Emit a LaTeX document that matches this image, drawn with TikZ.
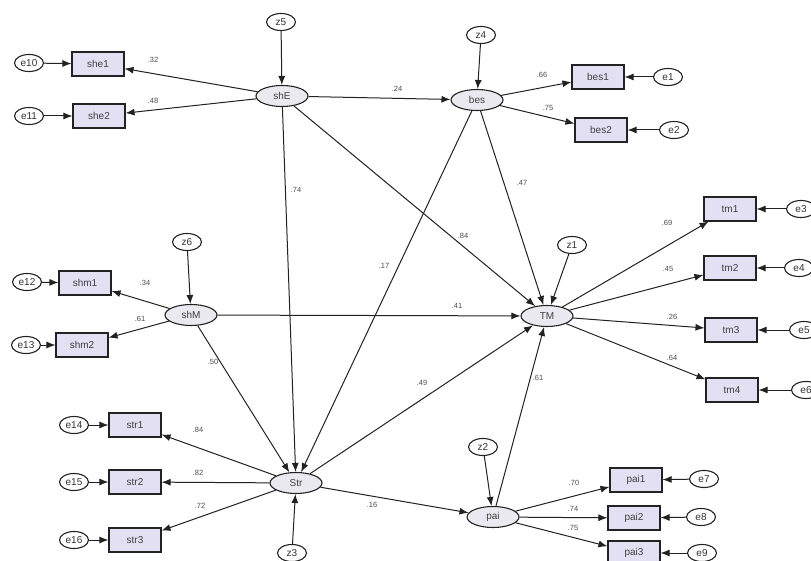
\documentclass[tikz,border=0pt]{standalone}
\usepackage{fontspec}
\setmainfont{Liberation Sans}
\usetikzlibrary{shapes.geometric,arrows.meta}
\definecolor{boxfill}{HTML}{E2E0F2}
\definecolor{ellfill}{HTML}{EAE9F0}
\definecolor{edgecol}{HTML}{222222}
\tikzset{
  latent/.style={ellipse,draw=edgecol,line width=1.1pt,fill=ellfill,minimum width=52pt,minimum height=21pt,inner sep=0pt,font=\fontsize{10}{11}\selectfont,text=black!75},
  err/.style={ellipse,draw=edgecol,line width=1.1pt,fill=white,minimum width=29pt,minimum height=17pt,inner sep=0pt,font=\fontsize{10}{11}\selectfont,text=black!80},
  obs/.style={rectangle,draw=edgecol,line width=1.1pt,fill=boxfill,minimum width=52pt,minimum height=24pt,inner sep=0pt,font=\fontsize{10}{11}\selectfont,text=black!75},
  conn/.style={draw=edgecol,line width=1pt,-{Latex[length=9pt,width=7pt]}},
  coef/.style={font=\fontsize{7.5}{8}\selectfont,text=black!70,inner sep=0pt}
}
\begin{document}
\begin{tikzpicture}[x=1pt,y=-1pt]
\useasboundingbox (0,0) rectangle (811,561);
\fill[white] (0,0) rectangle (811,561);
\clip (0,0) rectangle (811,561);
% latent variables
\node[latent] (shE) at (282,96) {shE};
\node[latent] (bes) at (477,100) {bes};
\node[latent] (shM) at (191,315) {shM};
\node[latent] (TM) at (547,316) {TM};
\node[latent] (Str) at (296,483) {Str};
\node[latent] (pai) at (493,517) {pai};
% disturbances
\node[err] (z5) at (281,22) {z5};
\node[err] (z4) at (481,35) {z4};
\node[err] (z6) at (187,242) {z6};
\node[err] (z1) at (572,245) {z1};
\node[err] (z3) at (292,553) {z3};
\node[err] (z2) at (483,447) {z2};
% indicators
\node[obs] (she1) at (98,64) {she1};
\node[obs] (she2) at (99,116) {she2};
\node[obs] (bes1) at (598,77) {bes1};
\node[obs] (bes2) at (601,130) {bes2};
\node[obs] (shm1) at (85,283) {shm1};
\node[obs] (shm2) at (82,345) {shm2};
\node[obs] (tm1) at (730,209) {tm1};
\node[obs] (tm2) at (730,268) {tm2};
\node[obs] (tm3) at (731,330) {tm3};
\node[obs] (tm4) at (732,390) {tm4};
\node[obs] (str1) at (135,425) {str1};
\node[obs] (str2) at (135,482) {str2};
\node[obs] (str3) at (135,540) {str3};
\node[obs] (pai1) at (636,480) {pai1};
\node[obs] (pai2) at (634,518) {pai2};
\node[obs] (pai3) at (634,553) {pai3};
% errors
\node[err] (e10) at (29,63) {e10};
\node[err] (e11) at (29,116) {e11};
\node[err] (e1) at (668,77) {e1};
\node[err] (e2) at (674,130) {e2};
\node[err] (e12) at (27,282) {e12};
\node[err] (e13) at (26,345) {e13};
\node[err] (e3) at (801,209) {e3};
\node[err] (e4) at (799,268) {e4};
\node[err] (e5) at (804,330) {e5};
\node[err] (e6) at (806,390) {e6};
\node[err] (e14) at (74,425) {e14};
\node[err] (e15) at (74,482) {e15};
\node[err] (e16) at (74,540) {e16};
\node[err] (e7) at (704,479) {e7};
\node[err] (e8) at (701,517) {e8};
\node[err] (e9) at (702,553) {e9};
% structural paths
\draw[conn] (z5) -- (shE);
\draw[conn] (z4) -- (bes);
\draw[conn] (z6) -- (shM);
\draw[conn] (z1) -- (TM);
\draw[conn] (z3) -- (Str);
\draw[conn] (z2) -- (pai);
\draw[conn] (shE) -- (bes);
\draw[conn] (shE) -- (Str);
\draw[conn] (shE) -- (TM);
\draw[conn] (bes) -- (TM);
\draw[conn] (bes) -- (Str);
\draw[conn] (shM) -- (TM);
\draw[conn] (shM) -- (Str);
\draw[conn] (Str) -- (TM);
\draw[conn] (Str) -- (pai);
\draw[conn] (pai) -- (TM);
% loadings
\draw[conn] (shE) -- (she1);
\draw[conn] (shE) -- (she2);
\draw[conn] (bes) -- (bes1);
\draw[conn] (bes) -- (bes2);
\draw[conn] (shM) -- (shm1);
\draw[conn] (shM) -- (shm2);
\draw[conn] (TM) -- (tm1);
\draw[conn] (TM) -- (tm2);
\draw[conn] (TM) -- (tm3);
\draw[conn] (TM) -- (tm4);
\draw[conn] (Str) -- (str1);
\draw[conn] (Str) -- (str2);
\draw[conn] (Str) -- (str3);
\draw[conn] (pai) -- (pai1);
\draw[conn] (pai) -- (pai2);
\draw[conn] (pai) -- (pai3);
% measurement errors
\draw[conn] (e10) -- (she1);
\draw[conn] (e11) -- (she2);
\draw[conn] (e1) -- (bes1);
\draw[conn] (e2) -- (bes2);
\draw[conn] (e12) -- (shm1);
\draw[conn] (e13) -- (shm2);
\draw[conn] (e3) -- (tm1);
\draw[conn] (e4) -- (tm2);
\draw[conn] (e5) -- (tm3);
\draw[conn] (e6) -- (tm4);
\draw[conn] (e14) -- (str1);
\draw[conn] (e15) -- (str2);
\draw[conn] (e16) -- (str3);
\draw[conn] (e7) -- (pai1);
\draw[conn] (e8) -- (pai2);
\draw[conn] (e9) -- (pai3);
% coefficients
\node[coef] (c1) at (153,60) {.32};
\node[coef] (c2) at (153,101) {.48};
\node[coef] (c3) at (397,89) {.24};
\node[coef] (c4) at (542,75) {.66};
\node[coef] (c5) at (548,108) {.75};
\node[coef] (c6) at (296,190) {.74};
\node[coef] (c7) at (463,236) {.84};
\node[coef] (c8) at (384,266) {.17};
\node[coef] (c9) at (522,183) {.47};
\node[coef] (c10) at (145,283) {.34};
\node[coef] (c11) at (140,319) {.61};
\node[coef] (c12) at (457,306) {.41};
\node[coef] (c13) at (213,362) {.50};
\node[coef] (c14) at (422,383) {.49};
\node[coef] (c15) at (538,378) {.61};
\node[coef] (c16) at (667,223) {.69};
\node[coef] (c17) at (668,269) {.45};
\node[coef] (c18) at (672,317) {.26};
\node[coef] (c19) at (672,358) {.64};
\node[coef] (c20) at (198,430) {.84};
\node[coef] (c21) at (198,473) {.82};
\node[coef] (c22) at (200,506) {.72};
\node[coef] (c23) at (372,505) {.16};
\node[coef] (c24) at (574,483) {.70};
\node[coef] (c25) at (573,509) {.74};
\node[coef] (c26) at (573,528) {.75};
\end{tikzpicture}
\end{document}
